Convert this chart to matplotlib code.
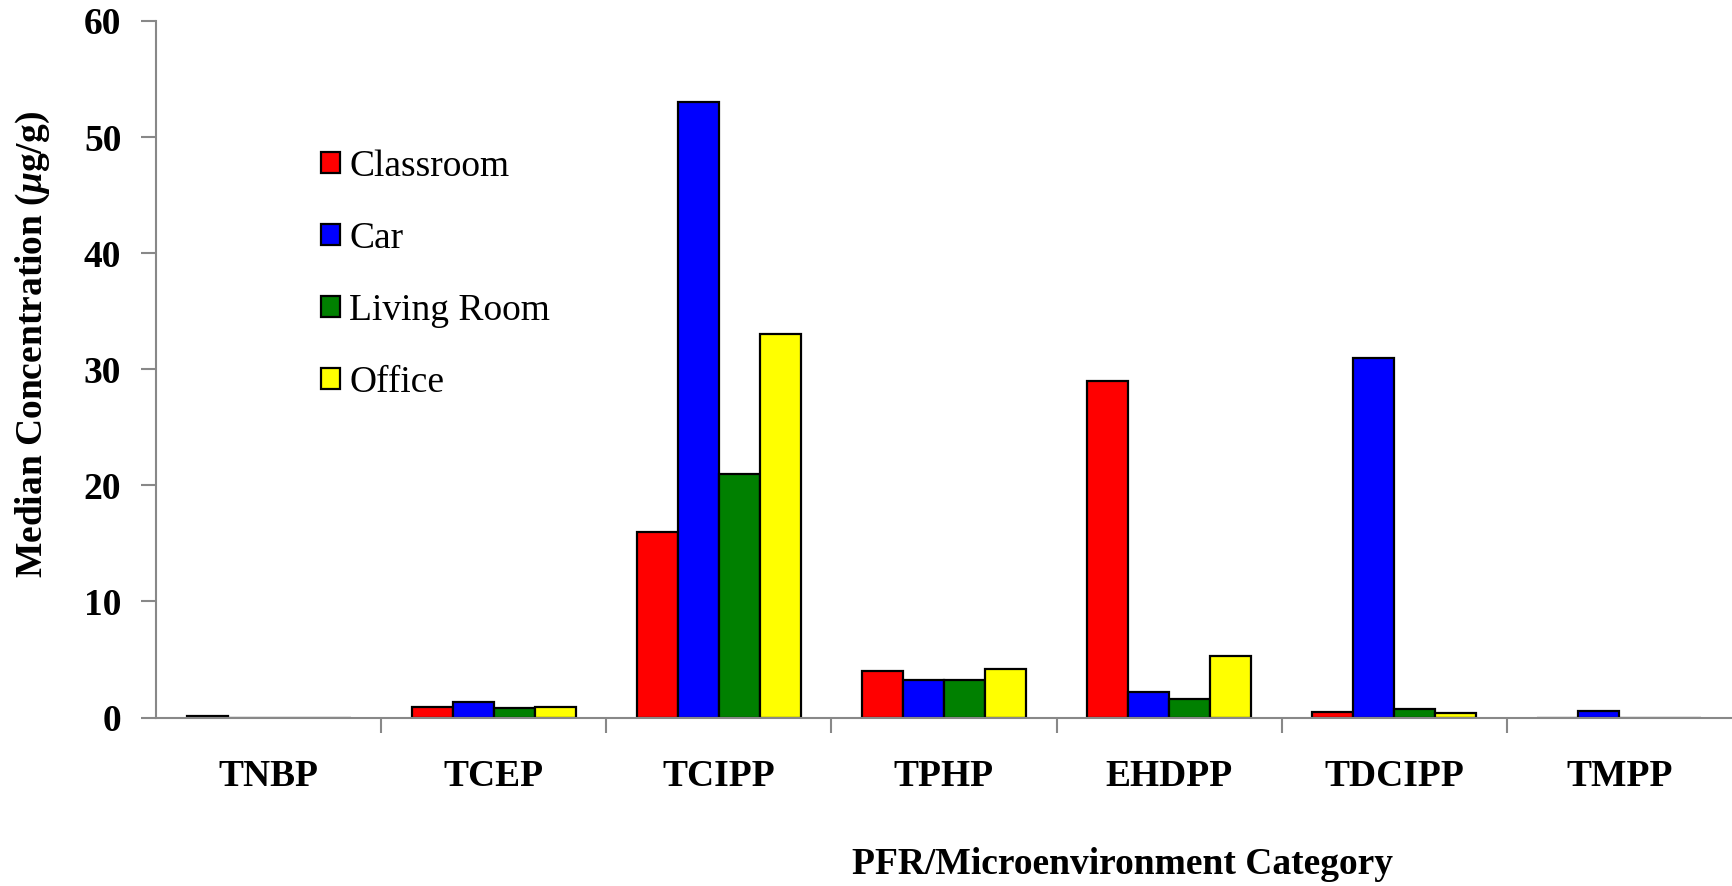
import matplotlib
matplotlib.use("Agg")
import matplotlib.pyplot as plt
import numpy as np

categories = ["TNBP", "TCEP", "TCIPP", "TPHP", "EHDPP", "TDCIPP", "TMPP"]
series_names = ["Classroom", "Car", "Living Room", "Office"]
classroom = [0.1, 0.9, 16, 4.0, 29, 0.5, 0.0]
car = [0.0, 1.3, 53, 3.2, 2.2, 31, 0.6]
living_room = [0.0, 0.8, 21, 3.2, 1.6, 0.7, 0.0]
office = [0.0, 0.9, 33, 4.2, 5.3, 0.4, 0.0]
colors = ["#FF0000", "#0000FF", "#008000", "#FFFF00"]
yticks = [0, 10, 20, 30, 40, 50, 60]

plt.rcParams["font.family"] = ["Liberation Serif", "DejaVu Serif"]
plt.rcParams["mathtext.fontset"] = "custom"
plt.rcParams["mathtext.rm"] = "Liberation Serif:bold"
plt.rcParams["mathtext.it"] = "Liberation Serif:bold:italic"
plt.rcParams["mathtext.bf"] = "Liberation Serif:bold"

W, H = 1732, 886
fig = plt.figure(figsize=(W / 100, H / 100), dpi=100)
left, right, top, bottom = 156, 1732, 21, 717.5
ax = fig.add_axes([left / W, 1 - bottom / H, (right - left) / W, (bottom - top) / H])

x = np.arange(len(categories))
bw = 0.182
data = [classroom, car, living_room, office]
for i, (vals, c, name) in enumerate(zip(data, colors, series_names)):
    ax.bar(x + (i - 1.5) * bw, vals, width=bw, color=c, edgecolor="black",
           linewidth=1.6, label=name, zorder=3)

ax.set_xlim(-0.5, len(categories) - 0.5)
ax.set_ylim(0, 60)
ax.set_yticks(yticks)
ax.set_yticklabels([str(v) for v in yticks], fontsize=27, fontweight="bold")

ax.set_xticks(x)
ax.set_xticklabels(categories, fontsize=27, fontweight="bold")
ax.tick_params(axis="x", which="major", length=0, pad=30)
ax.set_xticks(np.arange(0.5, len(categories) - 0.5, 1.0), minor=True)
ax.tick_params(axis="x", which="minor", length=11, width=1.5, color="#888888", direction="out")
ax.tick_params(axis="y", length=11, width=1.5, color="#888888", direction="out", pad=14)

for s in ["top", "right"]:
    ax.spines[s].set_visible(False)
for s in ["left", "bottom"]:
    ax.spines[s].set_color("#888888")
    ax.spines[s].set_linewidth(1.5)
ax.spines["bottom"].set_zorder(4)

fig.text(33 / W, 1 - 344 / H, r"Median Concentration ($\mu$g/g)", rotation=90,
         fontsize=27, fontweight="bold", ha="center", va="center")
fig.text(1123 / W, 1 - 864 / H, "PFR/Microenvironment Category",
         fontsize=27, fontweight="bold", ha="center", va="center")

leg = fig.legend(loc="upper left", bbox_to_anchor=(321 / W, 1 - 149 / H),
                 frameon=False, fontsize=27, handlelength=0.5, handleheight=0.5,
                 handletextpad=0.25, labelspacing=1.0, borderpad=0, borderaxespad=0)

fig.savefig("out.png", dpi=100, facecolor="white")
